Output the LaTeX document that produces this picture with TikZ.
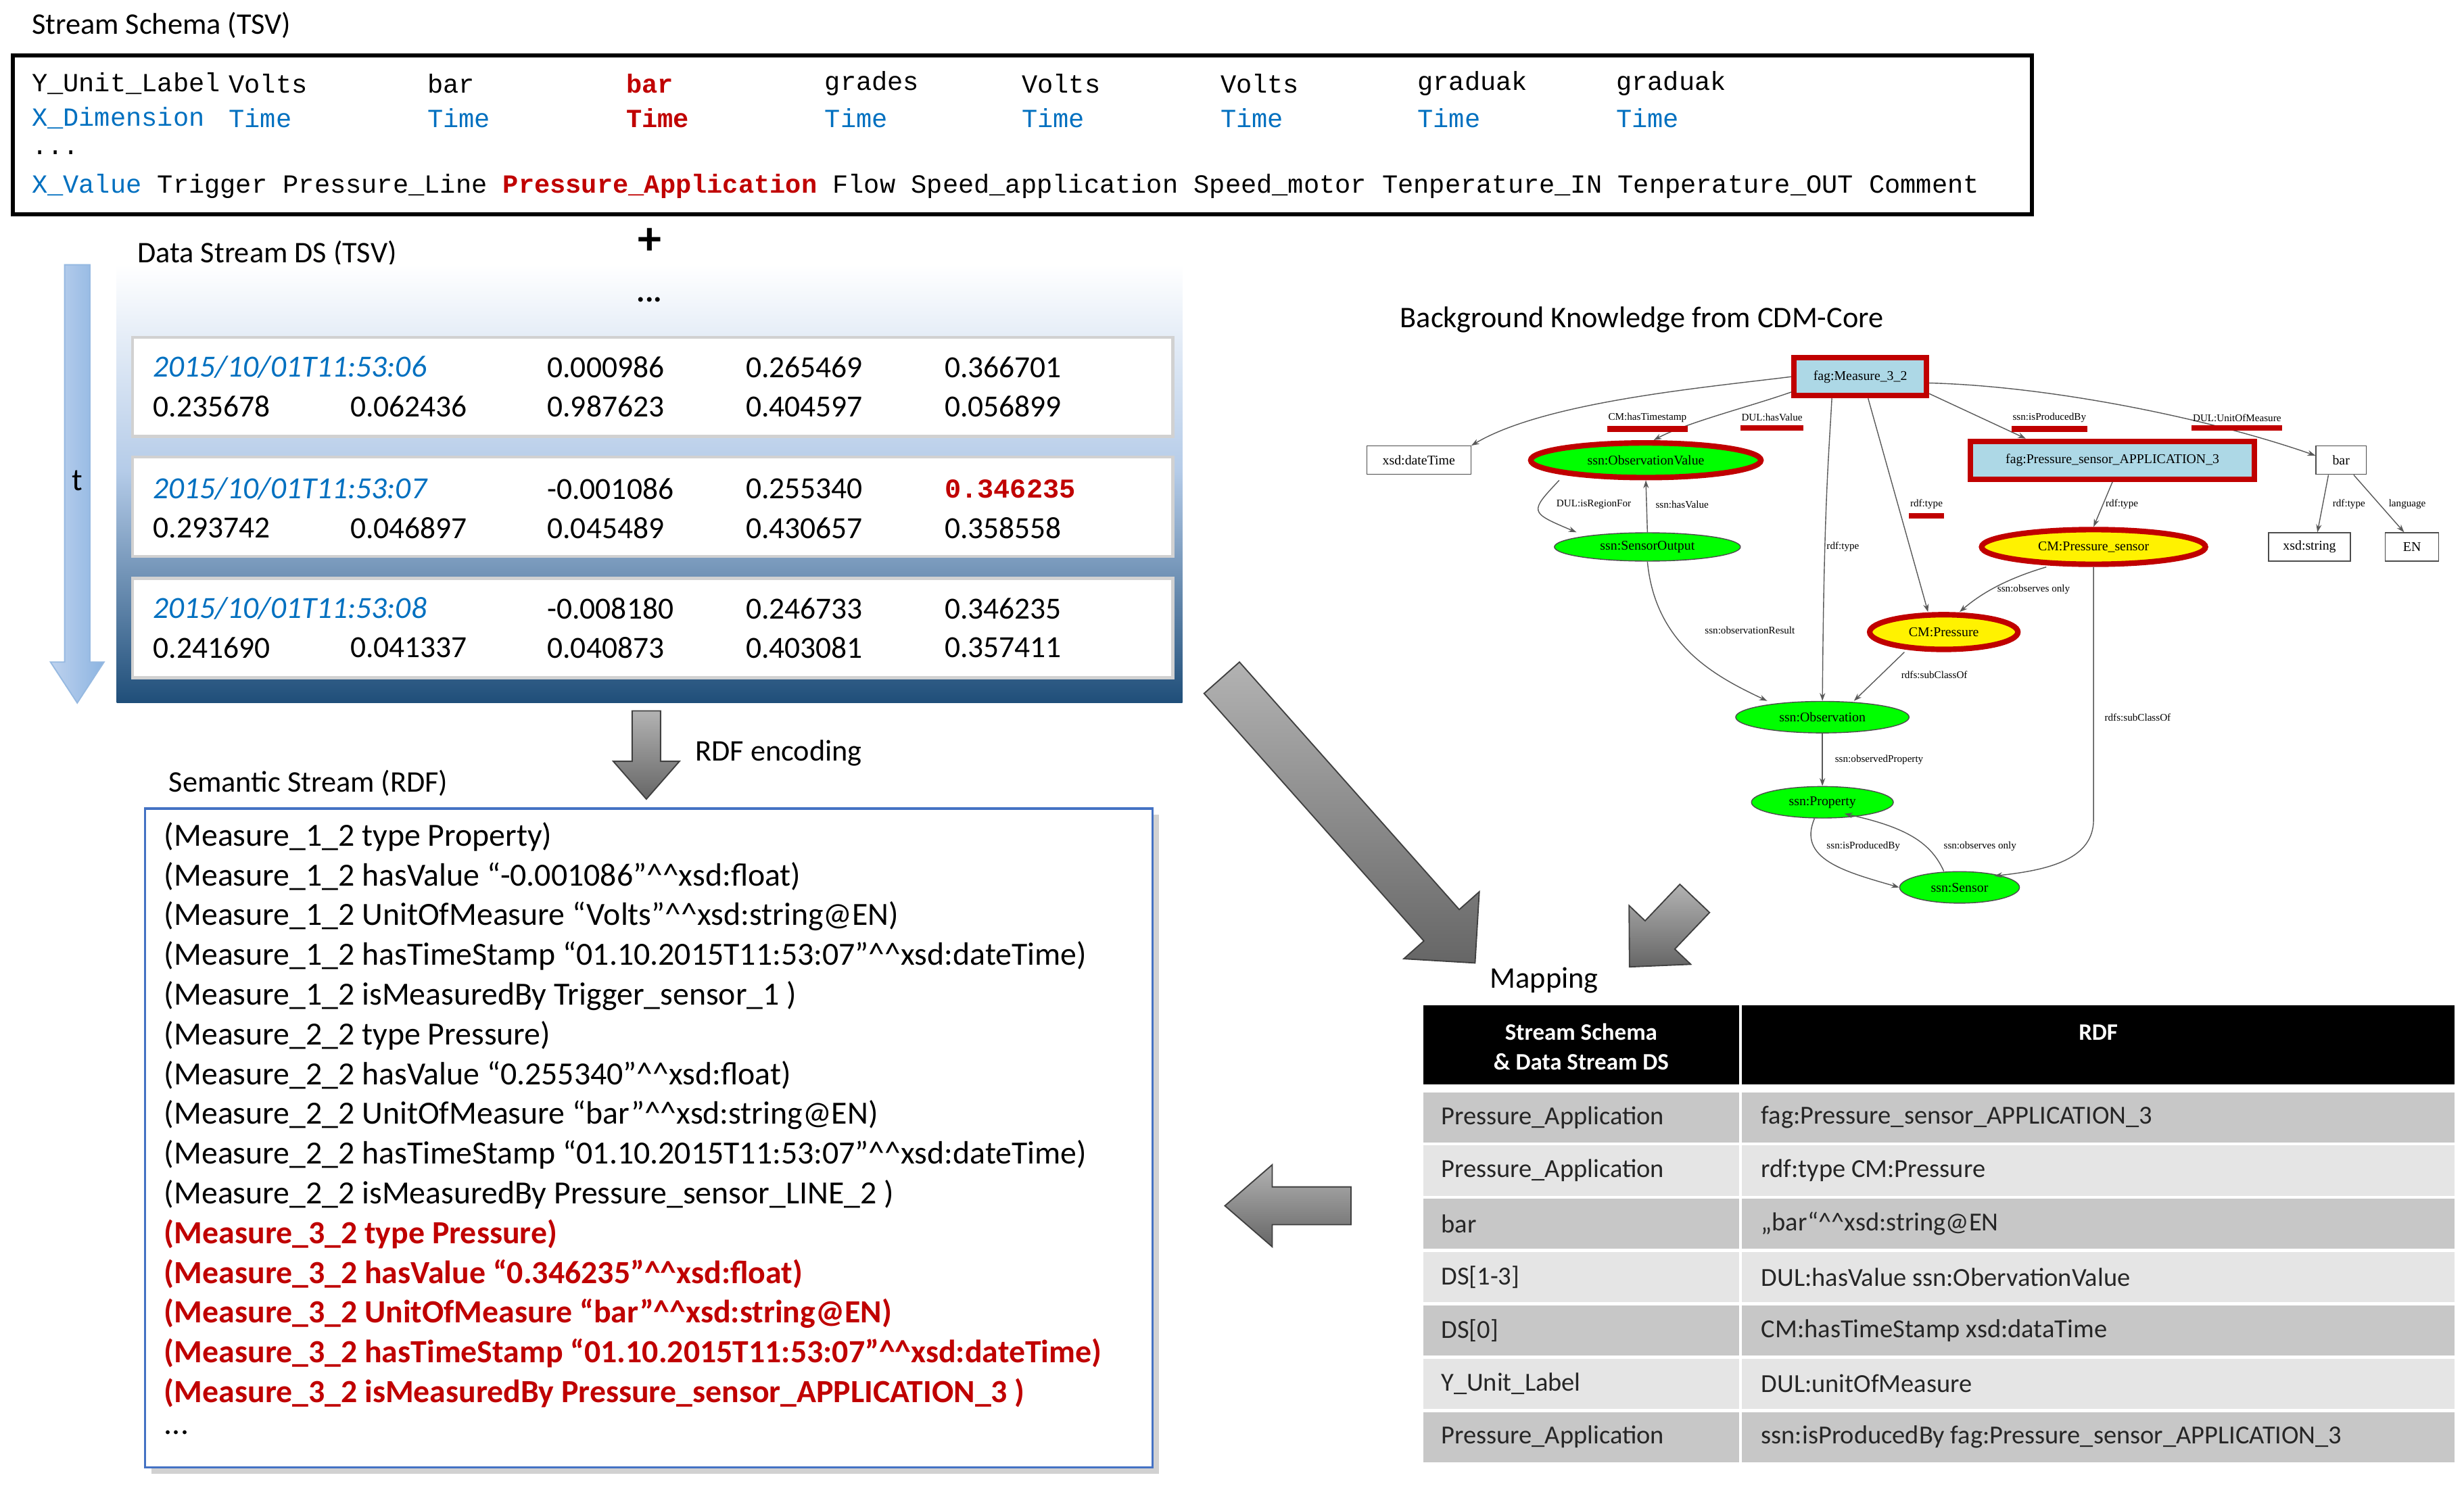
\documentclass[tikz,border=0pt]{standalone}
\usepackage{fontspec}
\setmainfont{Carlito}
\newfontfamily\monof{Liberation Mono}
\newfontfamily\serf{Liberation Serif}
\usetikzlibrary{shapes.geometric,arrows.meta,calc}
\definecolor{dred}{HTML}{C00000}
\definecolor{dblue}{HTML}{0070C0}
\definecolor{lblue}{HTML}{ADD8E6}
\newcommand\cc{\textasciicircum\textasciicircum}
% #1 style, #2 start, #3 angle, #4 length, #5 shaft width, #6 head width, #7 head length
\newcommand\fatarrow[7]{%
  \draw[#1,shift={#2},rotate=#3] (0,-#5/2) -- (#4-#7,-#5/2) -- (#4-#7,-#6/2) -- (#4,0) -- (#4-#7,#6/2) -- (#4-#7,#5/2) -- (0,#5/2) -- cycle;}
\begin{document}
\begin{tikzpicture}[x=1pt,y=-1pt,
  lab/.style={anchor=west,inner sep=0,font=\fontsize{19}{21}\selectfont},
  mono/.style={anchor=west,inner sep=0,font=\monof\fontsize{16.6}{19}\selectfont},
  dat/.style={anchor=west,inner sep=0,font=\fontsize{19.5}{21}\selectfont},
  dat0/.style={dat,font=\itshape\fontsize{19.5}{21}\selectfont,text=dblue},
  rdf/.style={anchor=west,inner sep=0,font=\fontsize{20.5}{22}\selectfont},
  rdfr/.style={rdf,font=\bfseries\fontsize{20.5}{22}\selectfont,text=dred},
  row/.style={draw=black!18,line width=2,fill=white},
  garrow/.style={draw=black!75,line width=0.8,top color=black!30,bottom color=black!60},
  gb/.style={draw=black!70,line width=.6,font=\serf\fontsize{8.5}{9}\selectfont,inner sep=2,minimum height=18},
  gn/.style={ellipse,draw=black!70,fill=green,line width=.6,font=\serf\fontsize{8.5}{9}\selectfont,inner sep=0},
  hl/.style={draw=dred,line width=3.5},
  el/.style={font=\serf\fontsize{6.5}{7}\selectfont,inner sep=0.5},
  ub/.style={draw=dred,line width=3.5},
  ge/.style={-{Stealth[length=5pt,width=3.5pt]},draw=black!65,line width=.6},
  th/.style={fill=black,text=white,font=\bfseries\fontsize{15}{19}\selectfont,align=center,inner sep=0},
  tc/.style={anchor=west,inner sep=0,font=\fontsize{16.5}{18}\selectfont,text=black!85}
]
\useasboundingbox (0,0) rectangle (1563,944);
\fill[white] (0,0) rectangle (1563,944);

% ---------- Stream schema
\node[lab] (t1) at (20,16) {Stream Schema (TSV)};
\draw[line width=2.5] (8,35) rectangle (1289,136);
\node[mono] (y0) at (20,53) {Y\_Unit\_Label};
\foreach \x/\t [count=\i] in {145/Volts,271/bar,523/grades,648/Volts,774/Volts,899/graduak,1025/graduak}
  \node[mono] (ya\i) at (\x,53) {\t};
\node[mono,text=dred,font=\monof\bfseries\fontsize{16.6}{19}\selectfont] (yb) at (397,53) {bar};
\node[mono,text=dblue] (x0) at (20,75) {X\_Dimension};
\foreach \x [count=\i] in {145,271,523,648,774,899,1025}
  \node[mono,text=dblue] (xa\i) at (\x,75) {Time};
\node[mono,text=dred,font=\monof\bfseries\fontsize{16.6}{19}\selectfont] (xb) at (397,75) {Time};
\node[mono] (dots0) at (20,97) {...};
\node[mono] (v0) at (20,118) {\textcolor{dblue}{X\_Value} Trigger Pressure\_Line \textcolor{dred}{\bfseries Pressure\_Application} Flow Speed\_application Speed\_motor Tenperature\_IN Tenperature\_OUT Comment};
\node[inner sep=0,font=\bfseries\fontsize{30}{30}\selectfont] (plus) at (412,153) {+};

% ---------- Data stream
\node[lab] (t2) at (87,161) {Data Stream DS (TSV)};
\shade[top color=white,bottom color={rgb,255:red,180;green,203;blue,232}] (74,168) rectangle (750,300);
\shade[top color={rgb,255:red,180;green,203;blue,232},bottom color={rgb,255:red,31;green,78;blue,121}] (74,299.5) rectangle (750,446);
\node[inner sep=0,font=\bfseries\fontsize{20}{20}\selectfont] (dots1) at (412,190) {...};
\draw[row] (84,214) rectangle (744,277);
\draw[row] (84,290) rectangle (744,353);
\draw[row] (84,367) rectangle (744,430);
\node[dat0] (d1) at (97,233) {2015/10/01T11:53:06};
\node[dat] at (347,233) {0.000986};
\node[dat] at (473,233) {0.265469};
\node[dat] at (599,233) {0.366701};
\foreach \x/\t in {97/0.235678,222/0.062436,347/0.987623,473/0.404597,599/0.056899} \node[dat] at (\x,258) {\t};
\node[dat0] (d2) at (97,310) {2015/10/01T11:53:07};
\node[dat] at (347,310) {-0.001086};
\node[dat] at (473,310) {0.255340};
\node[dat,text=dred,font=\monof\bfseries\fontsize{17.3}{19}\selectfont] at (599,310) {0.346235};
\foreach \x/\t in {97/0.293742,222/0.046897,347/0.045489,473/0.430657,599/0.358558} \node[dat] at (\x,335) {\t};
\node[dat0] (d3) at (97,386) {2015/10/01T11:53:08};
\node[dat] at (347,386) {-0.008180};
\node[dat] at (473,386) {0.246733};
\node[dat] at (599,386) {0.346235};
\foreach \x/\t in {97/0.241690,222/0.041337,347/0.040873,473/0.403081,599/0.357411} \node[dat] at (\x,411) {\t};

% time arrow
\fatarrow{draw={rgb,255:red,150;green,185;blue,225},line width=.8,left color={rgb,255:red,190;green,210;blue,238},right color={rgb,255:red,140;green,180;blue,225}}{(49,168)}{-90}{278}{16}{34}{26}
\node[inner sep=0,font=\fontsize{20}{20}\selectfont] (tl) at (49,305) {t};

% RDF encoding arrow
\fatarrow{garrow}{(410,451)}{-90}{56}{18}{42}{24}
\node[lab] (enc) at (441,478) {RDF encoding};

% ---------- Semantic stream
\node[lab] (t3) at (107,497) {Semantic Stream (RDF)};
\fill[black!18] (96,517) rectangle (735,935);
\draw[draw={rgb,255:red,68;green,114;blue,196},line width=1.5,fill=white] (92,513) rectangle (731,931);
\foreach \t [count=\i from 0] in {
 {(Measure\_1\_2 type Property)},
 {(Measure\_1\_2 hasValue “-0.001086"\cc xsd:float)},
 {(Measure\_1\_2 UnitOfMeasure “Volts"\cc xsd:string@EN)},
 {(Measure\_1\_2 hasTimeStamp “01.10.2015T11:53:07"\cc xsd:dateTime)},
 {(Measure\_1\_2 isMeasuredBy Trigger\_sensor\_1 )},
 {(Measure\_2\_2 type Pressure)},
 {(Measure\_2\_2 hasValue “0.255340"\cc xsd:float)},
 {(Measure\_2\_2 UnitOfMeasure “bar"\cc xsd:string@EN)},
 {(Measure\_2\_2 hasTimeStamp “01.10.2015T11:53:07"\cc xsd:dateTime)},
 {(Measure\_2\_2 isMeasuredBy Pressure\_sensor\_LINE\_2 )}}
 \node[rdf] at (104,531+25.2*\i) {\t};
\foreach \t [count=\i from 10] in {
 {(Measure\_3\_2 type Pressure)},
 {(Measure\_3\_2 hasValue “0.346235"\cc xsd:float)},
 {(Measure\_3\_2 UnitOfMeasure “bar"\cc xsd:string@EN)},
 {(Measure\_3\_2 hasTimeStamp “01.10.2015T11:53:07"\cc xsd:dateTime)},
 {(Measure\_3\_2 isMeasuredBy Pressure\_sensor\_APPLICATION\_3 )}}
 \node[rdfr] at (104,531+25.2*\i) {\t};
\node[rdf] (rdots) at (104,909) {...};

% gray arrows
\fatarrow{garrow}{(775,430)}{-48.4}{242}{30}{64}{32}
\fatarrow{garrow}{(1075,570)}{-133.6}{60}{26}{54}{28}
\fatarrow{garrow}{(857,765)}{180}{80}{24}{52}{30}

% ---------- Background knowledge graph
\node[lab] (t4) at (888,203) {Background Knowledge from CDM-Core};
\node[gb,fill=lblue,hl,minimum width=84,minimum height=24] (M) at (1180,239) {fag:Measure\_3\_2};
\node[gb,minimum width=66] (dt) at (900,292) {xsd:dateTime};
\node[gn,hl,minimum width=146,minimum height=22] (OV) at (1044,292) {ssn:ObservationValue};
\node[gn,minimum width=118,minimum height=18] (SO) at (1045,347) {ssn:SensorOutput};
\node[gb,fill=lblue,hl,minimum width=180,minimum height=24] (PS) at (1340,292) {fag:Pressure\_sensor\_APPLICATION\_3};
\node[gb,minimum width=32] (bar) at (1485,292) {bar};
\node[gb,minimum width=52] (xs) at (1465,347) {xsd:string};
\node[gb,minimum width=34] (EN) at (1530,347) {EN};
\node[gn,hl,fill=yellow,minimum width=142,minimum height=22] (PSs) at (1328,347) {CM:Pressure\_sensor};
\node[gn,hl,fill=yellow,minimum width=94,minimum height=22] (CMP) at (1233,401) {CM:Pressure};
\node[gn,minimum width=110,minimum height=20] (Obs) at (1156,455) {ssn:Observation};
\node[gn,minimum width=90,minimum height=20] (Prop) at (1156,509) {ssn:Property};
\node[gn,minimum width=76,minimum height=20] (Sen) at (1243,563) {ssn:Sensor};

\draw[ge] (M.west) .. controls (1080,246) and (980,255) .. (dt.north east);
\draw[ge] ([yshift=4]M.south west) .. controls (1110,258) and (1070,268) .. ([xshift=5]OV.north);
\draw[ge] ([xshift=-18]M.south) .. controls (1160,290) and (1157,320) .. (Obs.north);
\draw[ge] ([xshift=5]M.south) -- ([xshift=-10]CMP.north);
\draw[ge] ([yshift=3]M.south east) -- ([xshift=-55]PS.north);
\draw[ge] ([yshift=-4]M.east) .. controls (1300,245) and (1400,265) .. ([yshift=3]bar.west);
\draw[ge] ([xshift=-55]OV.south) .. controls (970,325) .. ([xshift=-45]SO.north);
\draw[ge] (SO.north) -- (OV.south);
\draw[ge] (SO.south) .. controls (1050,410) and (1090,430) .. ([xshift=-35]Obs.north);
\draw[ge] (PS.south) -- (PSs.north);
\draw[ge] ([xshift=-8]bar.south) -- ([xshift=5]xs.north);
\draw[ge] ([xshift=8]bar.south) -- ([xshift=-5]EN.north);
\draw[ge] ([xshift=-30]PSs.south) .. controls (1270,368) and (1255,378) .. ([xshift=10]CMP.north);
\draw[ge] ([xshift=-25]CMP.south) -- ([xshift=20]Obs.north);
\draw[ge] (PSs.south) -- (1328,520) .. controls (1328,545) and (1300,552) .. ([xshift=-5]Sen.north east);
\draw[ge] (Obs.south) -- (Prop.north);
\draw[ge] ([xshift=-5]Prop.south) .. controls (1140,545) and (1170,553) .. (Sen.west);
\draw[ge] ([xshift=-10]Sen.north) .. controls (1225,535) and (1210,525) .. ([xshift=-18]Prop.south east);

\node[el] (l1) at (1045,265) {CM:hasTimestamp};
\node[el] (l2) at (1124,265) {DUL:hasValue};
\node[el] (l3) at (1300,265) {ssn:isProducedBy};
\node[el] (l4) at (1419,265) {DUL:UnitOfMeasure};
\node[el] (l5) at (1222,320) {rdf:type};
\foreach \l in {l1,l2,l3,l4,l5} \draw[ub] ([yshift=-3.5]\l.south west) -- ([yshift=-3.5]\l.south east);
\node[el] (l6) at (1011,320) {DUL:isRegionFor};
\node[el] (l7) at (1067,320) {ssn:hasValue};
\node[el] (l8) at (1169,347) {rdf:type};
\node[el] (l9) at (1346,320) {rdf:type};
\node[el] (l10) at (1490,320) {rdf:type};
\node[el] (l11) at (1527,320) {language};
\node[el] (l12) at (1110,400) {ssn:observationResult};
\node[el] (l13) at (1290,374) {ssn:observes only};
\node[el] (l14) at (1227,428) {rdfs:subClassOf};
\node[el] (l15) at (1356,455) {rdfs:subClassOf};
\node[el] (l16) at (1192,482) {ssn:observedProperty};
\node[el] (l17) at (1182,537) {ssn:isProducedBy};
\node[el] (l18) at (1256,537) {ssn:observes only};

% ---------- Mapping table
\node[lab] (t5) at (945,622) {Mapping};
\fill[black] (903,638) rectangle (1557,688);
\draw[white,line width=1.5] (1104,638) -- (1104,688);
\node[th] (h1) at (1003,664) {Stream Schema\\\& Data Stream DS};
\node[th] (h2) at (1331,655) {RDF};
\foreach \a/\b [count=\i from 0] in {
 {Pressure\_Application}/{fag:Pressure\_sensor\_APPLICATION\_3},
 {Pressure\_Application}/{rdf:type CM:Pressure},
 {bar}/{„bar“\cc xsd:string@EN},
 {DS[1-3]}/{DUL:hasValue ssn:ObervationValue},
 {DS[0]}/{CM:hasTimeStamp xsd:dataTime},
 {Y\_Unit\_Label}/{DUL:unitOfMeasure},
 {Pressure\_Application}/{ssn:isProducedBy fag:Pressure\_sensor\_APPLICATION\_3}} {
  \pgfmathsetmacro\yt{693+33.8*\i}
  \pgfmathsetmacro\yb{693+33.8*\i+31.8}
  \pgfmathtruncatemacro\odd{mod(\i,2)}
  \ifnum\odd=0 \def\rc{black!22}\else\def\rc{black!10}\fi
  \fill[\rc] (903,\yt) rectangle (1103,\yb);
  \fill[\rc] (1105,\yt) rectangle (1557,\yb);
  \node[tc] at (914,{(\yt+\yb)/2}) {\a};
  \node[tc] at (1117,{(\yt+\yb)/2}) {\b};
}
\end{tikzpicture}
\end{document}
